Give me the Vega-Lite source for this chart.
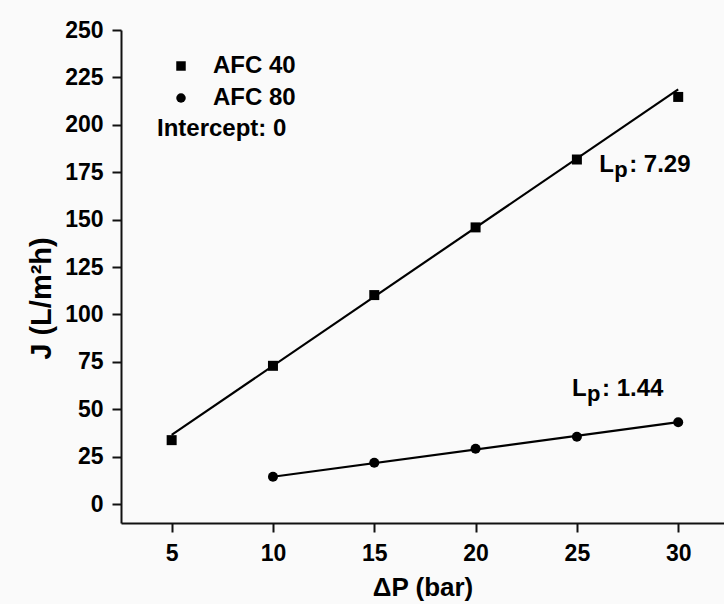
{
  "$schema": "https://vega.github.io/schema/vega-lite/v6.json",
  "autosize": {"type": "none"},
  "width": 603,
  "height": 493,
  "padding": {"left": 121, "top": 30, "right": 0, "bottom": 81},
  "background": "#fafafa",
  "config": {
    "view": {"stroke": null},
    "font": "Liberation Sans",
    "axis": {
      "domainColor": "#111",
      "domainWidth": 2,
      "tickColor": "#111",
      "tickWidth": 2,
      "tickSize": 9,
      "grid": false,
      "labelFont": "Liberation Sans",
      "labelFontSize": 23,
      "labelFontWeight": "bold",
      "labelColor": "#000",
      "titleFont": "Liberation Sans",
      "titleFontWeight": "bold",
      "titleColor": "#000"
    }
  },
  "datasets": {
    "points": [
      {"series": "AFC 40", "dp": 5, "J": 33.7},
      {"series": "AFC 40", "dp": 10, "J": 72.9},
      {"series": "AFC 40", "dp": 15, "J": 110.2},
      {"series": "AFC 40", "dp": 20, "J": 145.9},
      {"series": "AFC 40", "dp": 25, "J": 181.7},
      {"series": "AFC 40", "dp": 30, "J": 214.7},
      {"series": "AFC 80", "dp": 10, "J": 14.4},
      {"series": "AFC 80", "dp": 15, "J": 21.8},
      {"series": "AFC 80", "dp": 20, "J": 29.2},
      {"series": "AFC 80", "dp": 25, "J": 35.5},
      {"series": "AFC 80", "dp": 30, "J": 43.1}
    ],
    "fit": [
      {"series": "AFC 40", "dp": 5, "J": 36.45},
      {"series": "AFC 40", "dp": 30, "J": 218.7},
      {"series": "AFC 80", "dp": 10, "J": 14.4},
      {"series": "AFC 80", "dp": 30, "J": 43.2}
    ]
  },
  "encoding": {
    "x": {
      "type": "quantitative",
      "scale": {"domain": [2.5, 32.26], "nice": false, "zero": false},
      "axis": {
        "values": [5, 10, 15, 20, 25, 30],
        "labelPadding": 10,
        "title": "ΔP (bar)",
        "titleFontSize": 26,
        "titleY": 72,
        "titleBaseline": "alphabetic"
      }
    },
    "y": {
      "type": "quantitative",
      "scale": {"domain": [-10, 250], "nice": false, "zero": false},
      "axis": {
        "values": [0, 25, 50, 75, 100, 125, 150, 175, 200, 225, 250],
        "labelPadding": 9,
        "title": "J (L/m²h)",
        "titleFontSize": 29,
        "titleAngle": 270,
        "titleX": -71,
        "titleY": 268,
        "titleAlign": "center",
        "titleBaseline": "alphabetic"
      }
    }
  },
  "layer": [
    {
      "mark": {"type": "rule", "color": "#222", "strokeWidth": 2},
      "encoding": {"y": {"datum": 250}, "x": null}
    },
    {
      "data": {"name": "fit"},
      "mark": {"type": "line", "color": "#000", "strokeWidth": 2.2},
      "encoding": {
        "x": {"field": "dp"},
        "y": {"field": "J"},
        "detail": {"field": "series"}
      }
    },
    {
      "data": {"name": "points"},
      "mark": {"type": "point", "filled": true, "color": "#000", "opacity": 1, "size": 100},
      "encoding": {
        "x": {"field": "dp"},
        "y": {"field": "J"},
        "shape": {
          "field": "series",
          "type": "nominal",
          "scale": {"domain": ["AFC 40", "AFC 80"], "range": ["square", "circle"]},
          "legend": {
            "orient": "none",
            "legendX": 36,
            "legendY": 24,
            "padding": 0,
            "title": "Intercept: 0",
            "titleOrient": "bottom",
            "titleAnchor": "start",
            "titleFont": "Liberation Sans",
            "titleFontSize": 24,
            "titleFontWeight": "bold",
            "titleColor": "#000",
            "titlePadding": 7,
            "labelFont": "Liberation Sans",
            "labelFontSize": 24,
            "labelFontWeight": "bold",
            "labelColor": "#000",
            "labelOffset": 20,
            "symbolOffset": 12,
            "symbolSize": 90,
            "symbolFillColor": "#000",
            "symbolStrokeColor": "#000",
            "rowPadding": 8
          }
        }
      }
    },
    {
      "data": {"values": [{}]},
      "mark": {"type": "text", "text": "L", "align": "left", "baseline": "alphabetic", "fontSize": 24, "fontWeight": "bold", "color": "#000"},
      "encoding": {"x": {"datum": 26.1}, "y": {"datum": 175.3}}
    },
    {
      "data": {"values": [{}]},
      "mark": {"type": "text", "text": "p", "align": "left", "baseline": "alphabetic", "dx": 15, "dy": 5, "fontSize": 22, "fontWeight": "bold", "color": "#000"},
      "encoding": {"x": {"datum": 26.1}, "y": {"datum": 175.3}}
    },
    {
      "data": {"values": [{}]},
      "mark": {"type": "text", "text": ": 7.29", "align": "left", "baseline": "alphabetic", "dx": 30, "fontSize": 24, "fontWeight": "bold", "color": "#000"},
      "encoding": {"x": {"datum": 26.1}, "y": {"datum": 175.3}}
    },
    {
      "data": {"values": [{}]},
      "mark": {"type": "text", "text": "L", "align": "left", "baseline": "alphabetic", "fontSize": 24, "fontWeight": "bold", "color": "#000"},
      "encoding": {"x": {"datum": 24.76}, "y": {"datum": 57.1}}
    },
    {
      "data": {"values": [{}]},
      "mark": {"type": "text", "text": "p", "align": "left", "baseline": "alphabetic", "dx": 15, "dy": 5, "fontSize": 22, "fontWeight": "bold", "color": "#000"},
      "encoding": {"x": {"datum": 24.76}, "y": {"datum": 57.1}}
    },
    {
      "data": {"values": [{}]},
      "mark": {"type": "text", "text": ": 1.44", "align": "left", "baseline": "alphabetic", "dx": 30, "fontSize": 24, "fontWeight": "bold", "color": "#000"},
      "encoding": {"x": {"datum": 24.76}, "y": {"datum": 57.1}}
    }
  ]
}
